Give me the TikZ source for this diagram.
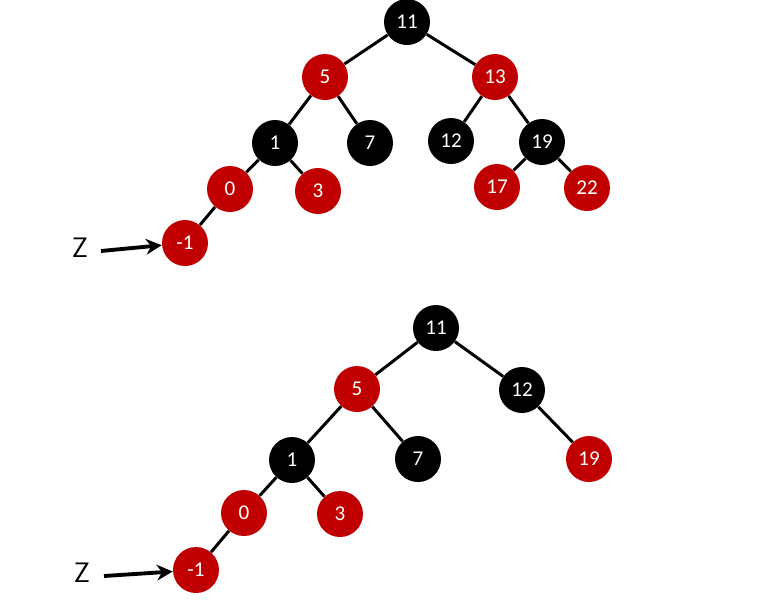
\documentclass[tikz,border=0pt]{standalone}
\usepackage{fontspec}
\setmainfont{Carlito}
\usetikzlibrary{arrows.meta}
\definecolor{rbred}{RGB}{192,0,0}
\tikzset{
 nd/.style={circle,minimum size=0.92cm,inner sep=0pt,text=white,font=\fontsize{12}{12}\selectfont},
 rn/.style={nd,fill=rbred},
 bn/.style={nd,fill=black},
 ed/.style={line width=1.7pt},
 ar/.style={line width=2.2pt,-{Stealth[length=9pt,width=9pt]}},
 zl/.style={font=\fontsize{16}{16}\selectfont\sffamily}
}
\begin{document}
\begin{tikzpicture}[x=0.02cm,y=-0.02cm]
\useasboundingbox (0,0) rectangle (758,603);
% top tree
\node[bn] (a11) at (407,22) {11};
\node[rn] (a5) at (325,77) {5};
\node[rn] (a13) at (495,77) {13};
\node[bn] (a1) at (275,143) {1};
\node[bn] (a7) at (370,143) {7};
\node[bn] (a12) at (451,141) {12};
\node[bn] (a19) at (542,142) {19};
\node[rn] (a0) at (230,189) {0};
\node[rn] (a3) at (318,191) {3};
\node[rn] (a17) at (497,187) {17};
\node[rn] (a22) at (587,188) {22};
\node[rn] (am1) at (185,243) {-1};
\begin{scope}[on background layer/.style={}]
\end{scope}
\node[zl] (z1) at (80,248) {Z};
\coordinate (z1s) at (101,251);
% bottom tree
\node[bn] (b11) at (436,328) {11};
\node[rn] (b5) at (357,389) {5};
\node[bn] (b12) at (522,390) {12};
\node[bn] (b1) at (292,460) {1};
\node[bn] (b7) at (418,459) {7};
\node[rn] (b19) at (589,459) {19};
\node[rn] (b0) at (244,513) {0};
\node[rn] (b3) at (340,514) {3};
\node[rn] (bm1) at (196,570) {-1};
\node[zl] (z2) at (82,573) {Z};
\coordinate (z2s) at (104,576);
% edges
\draw[ed] (a11)--(a5) (a11)--(a13) (a5)--(a1) (a5)--(a7) (a13)--(a12) (a13)--(a19)
 (a1)--(a0) (a1)--(a3) (a19)--(a17) (a19)--(a22) (a0)--(am1);
\draw[ed] (b11)--(b5) (b11)--(b12) (b5)--(b1) (b5)--(b7) (b12)--(b19)
 (b1)--(b0) (b1)--(b3) (b0)--(bm1);
\draw[ar] (z1s)--(am1);
\draw[ar] (z2s)--(bm1);
\end{tikzpicture}
\end{document}
